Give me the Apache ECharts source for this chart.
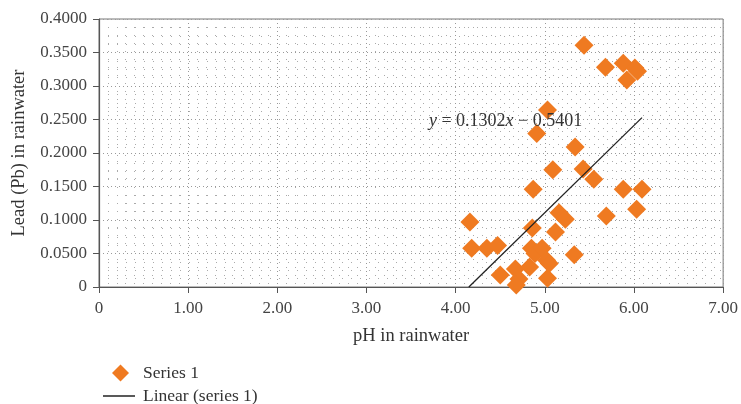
<!DOCTYPE html>
<html>
<head>
<meta charset="utf-8">
<script src="https://cdn.jsdelivr.net/npm/echarts@6/dist/echarts.min.js"></script>
<style>html,body{margin:0;padding:0;background:#fff;}#c{width:741px;height:404px;}</style>
</head>
<body>
<div id="c"></div>
<script>
const phValues = [4.16,4.18,4.35,4.47,4.50,4.67,4.71,4.68,4.83,4.86,4.85,4.89,4.97,5.02,5.03,5.05,5.12,5.16,5.23,5.33,4.87,5.09,5.43,5.55,5.88,6.09,6.03,5.69,5.34,4.91,5.03,5.44,5.68,5.88,6.01,5.92,6.04];
const leadValues = [0.097,0.058,0.058,0.062,0.018,0.027,0.012,0.003,0.030,0.088,0.058,0.050,0.058,0.040,0.013,0.035,0.082,0.111,0.101,0.048,0.146,0.175,0.176,0.161,0.146,0.146,0.116,0.106,0.209,0.229,0.264,0.361,0.328,0.334,0.327,0.309,0.322];
const trendX = [4.148, 6.09];
const trendY = [0.0, 0.2528];
const xTicks = ['0','1.00','2.00','3.00','4.00','5.00','6.00','7.00'];
const yTicks = ['0','0.0500','0.1000','0.1500','0.2000','0.2500','0.3000','0.3500','0.4000'];
const equationText = '{i|y} = 0.1302{i|x} \u2212 0.5401';

const chart = echarts.init(document.getElementById('c'));
const serif = '"Liberation Serif", "DejaVu Serif", serif';
const points = phValues.map((v, i) => [v, leadValues[i]]);
const trend = trendX.map((v, i) => [v, trendY[i]]);
chart.setOption({
  backgroundColor: '#fff',
  animation: false,
  textStyle: {fontFamily: serif},
  grid: {left: 99, right: 17, top: 19, bottom: 117, show: true, borderColor: '#777', borderWidth: 1, backgroundColor: 'transparent'},
  xAxis: {
    type: 'value', min: 0, max: 7, interval: 1,
    name: 'pH in rainwater', nameLocation: 'middle', nameGap: 40,
    nameTextStyle: {fontFamily: serif, fontSize: 18.5, color: '#333'},
    axisLine: {show: true, lineStyle: {color: '#555', width: 1.2}},
    axisTick: {show: true, length: 6, lineStyle: {color: '#555'}},
    axisLabel: {fontFamily: serif, fontSize: 17, color: '#444', margin: 13,
      formatter: (v) => xTicks[Math.round(v)]},
    splitLine: {show: true, lineStyle: {color: '#999', type: [1, 3], width: 1}},
    minorTick: {show: false, splitNumber: 10},
    minorSplitLine: {show: true, lineStyle: {color: '#aaa', type: [1, 7], width: 1}}
  },
  yAxis: {
    type: 'value', min: 0, max: 0.4, interval: 0.05,
    name: 'Lead (Pb) in rainwater', nameLocation: 'middle', nameGap: 70,
    nameTextStyle: {fontFamily: serif, fontSize: 18.5, color: '#333'},
    axisLine: {show: true, lineStyle: {color: '#555', width: 1.2}},
    axisTick: {show: true, length: 6, lineStyle: {color: '#555'}},
    axisLabel: {fontFamily: serif, fontSize: 17, color: '#444', margin: 12,
      formatter: (v) => yTicks[Math.round(v / 0.05)]},
    splitLine: {show: true, lineStyle: {color: '#999', type: [1, 3], width: 1}},
    minorTick: {show: false, splitNumber: 4},
    minorSplitLine: {show: true, lineStyle: {color: '#aaa', type: [1, 8], width: 1}}
  },
  legend: [{
    orient: 'vertical', left: 107, top: 359, itemWidth: 17, itemHeight: 17,
    data: [{name: 'Series 1', icon: 'diamond'}],
    textStyle: {fontFamily: serif, fontSize: 17.5, color: '#333', padding: [0, 0, 0, 9]}
  }, {
    orient: 'vertical', left: 98, top: 382, itemWidth: 32, itemHeight: 1.5,
    data: [{name: 'Linear (series 1)', icon: 'rect'}],
    textStyle: {fontFamily: serif, fontSize: 17.5, color: '#333', padding: [0, 0, 0, 3]}
  }],
  series: [{
    name: 'Series 1', type: 'scatter', symbol: 'diamond', symbolSize: 19,
    itemStyle: {color: '#EF7A21', opacity: 1},
    data: points, z: 3
  }, {
    name: 'Linear (series 1)', type: 'line', symbol: 'none',
    lineStyle: {color: '#222', width: 1.3},
    itemStyle: {color: '#222'},
    data: trend, z: 4,
    markPoint: {
      symbol: 'rect', symbolSize: 1, itemStyle: {color: 'transparent'},
      data: [{coord: [4.56, 0.247]}],
      label: {show: true, position: 'inside', formatter: equationText,
        fontFamily: serif, fontSize: 18, color: '#333',
        rich: {i: {fontStyle: 'italic', fontFamily: serif, fontSize: 18, color: '#333'}}}
    }
  }]
});
</script>
</body>
</html>
